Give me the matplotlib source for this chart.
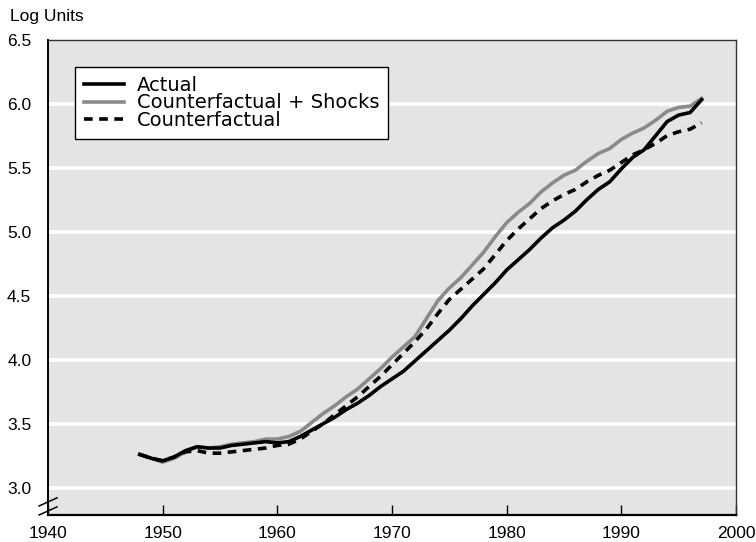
import matplotlib
matplotlib.use("Agg")
import matplotlib.pyplot as plt

years = list(range(1948, 1998))

actual = [3.26, 3.23, 3.21, 3.24, 3.29, 3.32, 3.31, 3.31, 3.33, 3.34,
          3.35, 3.36, 3.35, 3.36, 3.40, 3.45, 3.50, 3.55, 3.61, 3.66,
          3.72, 3.79, 3.85, 3.91, 3.99, 4.07, 4.15, 4.23, 4.32, 4.42,
          4.51, 4.60, 4.70, 4.78, 4.86, 4.95, 5.03, 5.09, 5.16, 5.25,
          5.33, 5.39, 5.49, 5.58, 5.64, 5.75, 5.86, 5.91, 5.93, 6.03]

cf_shocks = [3.26, 3.23, 3.20, 3.23, 3.28, 3.32, 3.31, 3.32, 3.34, 3.35,
             3.36, 3.38, 3.38, 3.40, 3.44, 3.51, 3.58, 3.64, 3.71, 3.77,
             3.85, 3.93, 4.02, 4.10, 4.18, 4.32, 4.46, 4.56, 4.64, 4.74,
             4.84, 4.96, 5.07, 5.15, 5.22, 5.31, 5.38, 5.44, 5.48, 5.55,
             5.61, 5.65, 5.72, 5.77, 5.81, 5.87, 5.94, 5.97, 5.98, 6.04]

counterfactual = [3.26, 3.23, 3.21, 3.24, 3.28, 3.29, 3.27, 3.27, 3.28, 3.29,
                  3.30, 3.31, 3.33, 3.34, 3.38, 3.44, 3.50, 3.57, 3.64, 3.71,
                  3.79, 3.87, 3.96, 4.05, 4.14, 4.24, 4.36, 4.47, 4.55, 4.63,
                  4.71, 4.82, 4.93, 5.02, 5.10, 5.18, 5.24, 5.29, 5.33, 5.39,
                  5.44, 5.48, 5.54, 5.60, 5.64, 5.69, 5.75, 5.78, 5.80, 5.85]

labels = ["Actual", "Counterfactual + Shocks", "Counterfactual"]
x_ticks = [1940, 1950, 1960, 1970, 1980, 1990, 2000]
y_ticks = [3.0, 3.5, 4.0, 4.5, 5.0, 5.5, 6.0, 6.5]

plt.rcParams["font.family"] = ["Liberation Sans", "DejaVu Sans"]

fig = plt.figure(figsize=(7.56, 5.42), dpi=100)
ax = fig.add_axes([0.0635, 0.0498, 0.91, 0.8772])
ax.set_facecolor("#e4e4e4")

for v in y_ticks[:-1]:
    ax.axhline(v, color="white", lw=2.6, zorder=1)

g, = ax.plot(years, cf_shocks, color="#8a8a8a", lw=2.6, zorder=3)
a, = ax.plot(years, actual, color="black", lw=2.6, zorder=4)
c, = ax.plot(years, counterfactual, color="black", lw=2.6, dashes=(2.4, 1.8), zorder=5)

ax.set_xlim(1940, 2000)
ax.set_ylim(2.787, 6.5)
ax.set_xticks(x_ticks)
ax.set_xticklabels([str(t) for t in x_ticks], fontsize=12.5)
ax.set_yticks(y_ticks)
ax.set_yticklabels(["%.1f" % t for t in y_ticks], fontsize=12.5)
ax.tick_params(axis="x", direction="in", length=7, width=1, pad=8)
ax.tick_params(axis="y", length=0, pad=12)

for s in ax.spines.values():
    s.set_color("#333333")
    s.set_linewidth(1.0)
ax.spines["left"].set_color("black")
ax.spines["left"].set_linewidth(1.4)
ax.spines["bottom"].set_color("black")
ax.spines["bottom"].set_linewidth(1.6)

# axis break marks on the left spine
for y0 in (0.0, 0.019):
    ax.plot([-0.013, 0.013], [y0, y0 + 0.017], color="black", lw=1.1,
            transform=ax.transAxes, clip_on=False, zorder=6)

fig.text(0.013, 0.97, "Log Units", fontsize=12.5, va="center", ha="left")

leg = ax.legend([a, g, c], labels, loc="upper left", bbox_to_anchor=(0.039, 0.942),
                borderaxespad=0, fancybox=False, framealpha=1, edgecolor="black",
                prop={"family": "DejaVu Sans", "size": 14}, handlelength=2.1,
                handletextpad=0.65, labelspacing=-0.08, borderpad=0.45)
leg.get_frame().set_linewidth(1.0)

fig.savefig("out.png", dpi=100)
